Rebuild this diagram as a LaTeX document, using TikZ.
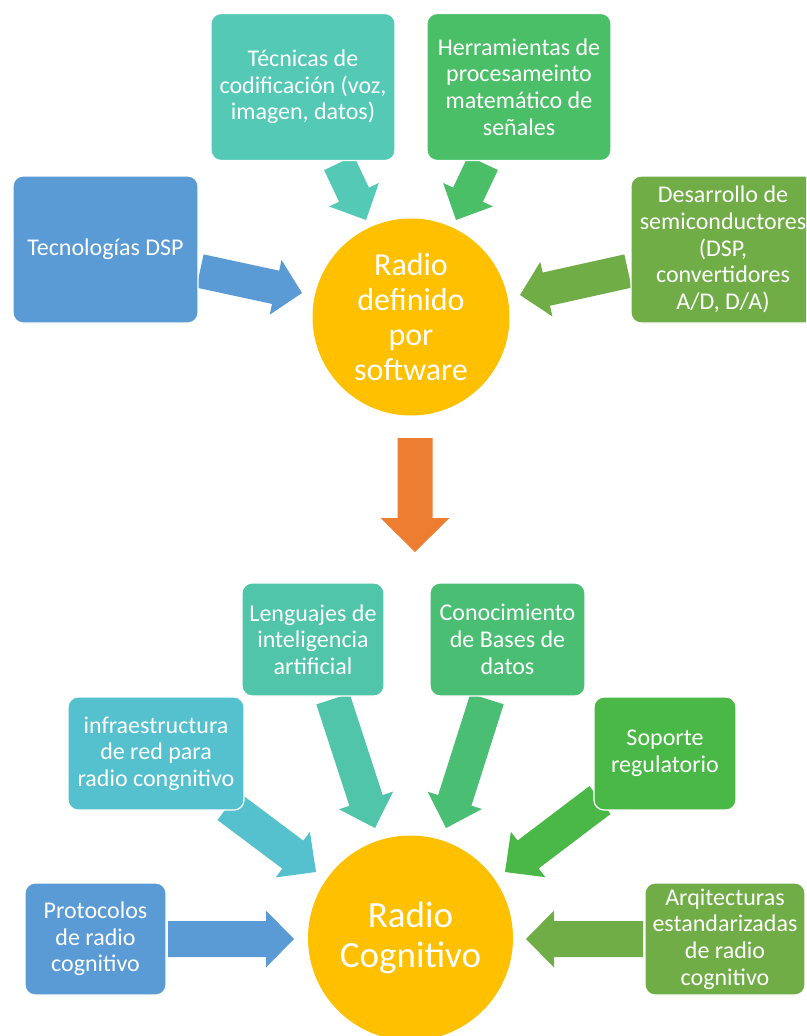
\documentclass[tikz,border=0pt]{standalone}
\usepackage{fontspec}
\setmainfont{Carlito}
\usepackage{xcolor}
\usepackage{tikz}
\usetikzlibrary{calc}
\definecolor{dspblue}{HTML}{5B9BD5}
\definecolor{codteal}{HTML}{54C9B6}
\definecolor{matgreen}{HTML}{4BBF68}
\definecolor{semgreen}{HTML}{70AD47}
\definecolor{hubgold}{HTML}{FFC000}
\definecolor{floworange}{HTML}{ED7D31}
\definecolor{iateal}{HTML}{50C5A9}
\definecolor{dbgreen}{HTML}{4ABF74}
\definecolor{netcyan}{HTML}{56C1CE}
\definecolor{reggreen}{HTML}{4AB846}
% Block arrow: tail, tip, colour, half shaft, half head, head length.
\newcommand{\blockarrow}[6]{%
  \coordinate (headbase) at ($(#2)!#6!(#1)$);
  \fill[#3]
    ($(#1)!#4!90:(#2)$) -- ($(headbase)!#4!90:(#2)$) --
    ($(headbase)!#5!90:(#2)$) -- (#2) --
    ($(headbase)!#5!-90:(#2)$) -- ($(headbase)!#4!-90:(#2)$) --
    ($(#1)!#4!-90:(#2)$) -- cycle;
}

\begin{document}
\begin{tikzpicture}[
      x=1pt,
      y=-1pt,
      box/.style={rounded corners=10pt, draw=white, line width=1.2pt,
        text=white, align=center, inner sep=0pt,
        font=\fontsize{24}{26.7}\selectfont},
      hub/.style={circle, fill=hubgold, text=white, align=center,
        inner sep=0pt}
    ]
      \clip (0,0) rectangle (806,1036);

      % Arrow ends, placed in picture pixels.
      \coordinate (codtail) at (339,163);  \coordinate (codtip) at (366,220);
      \coordinate (mattail) at (483,163);  \coordinate (mattip) at (456,220);
      \coordinate (dsptail) at (200,271);  \coordinate (dsptip) at (302,293);
      \coordinate (semtail) at (628,271);  \coordinate (semtip) at (520,295);
      \coordinate (flowtail) at (415,438); \coordinate (flowtip) at (415,552);
      \coordinate (iatail) at (333,699);   \coordinate (iatip) at (375,828);
      \coordinate (dbtail) at (487,699);   \coordinate (dbtip) at (446,828);
      \coordinate (nettail) at (228,806);  \coordinate (nettip) at (316,872);
      \coordinate (regtail) at (600,800);  \coordinate (regtip) at (505,872);
      \coordinate (prottail) at (168,939); \coordinate (prottip) at (294,939);
      \coordinate (archtail) at (643,939); \coordinate (archtip) at (526,939);

      \blockarrow{codtail}{codtip}{codteal}{16.5pt}{27.5pt}{28pt}
      \blockarrow{mattail}{mattip}{matgreen}{16.5pt}{27.5pt}{28pt}
      \blockarrow{dsptail}{dsptip}{dspblue}{17pt}{28pt}{27pt}
      \blockarrow{semtail}{semtip}{semgreen}{17pt}{28pt}{27pt}
      \blockarrow{flowtail}{flowtip}{floworange}{17.5pt}{34.5pt}{34pt}
      \blockarrow{iatail}{iatip}{iateal}{17.5pt}{28.5pt}{29pt}
      \blockarrow{dbtail}{dbtip}{dbgreen}{17.5pt}{28.5pt}{29pt}
      \blockarrow{nettail}{nettip}{netcyan}{17.5pt}{28.5pt}{29pt}
      \blockarrow{regtail}{regtip}{reggreen}{17.5pt}{28.5pt}{29pt}
      \blockarrow{prottail}{prottip}{dspblue}{18pt}{28.5pt}{28pt}
      \blockarrow{archtail}{archtip}{semgreen}{18pt}{28.5pt}{28pt}

      % Software defined radio and its sources.
      \node[box, fill=codteal, minimum width=184, minimum height=147]
        (codif) at (303,87) {Técnicas de\\codificación (voz,\\imagen, datos)};
      \node[box, fill=matgreen, minimum width=184, minimum height=147]
        (mathtools) at (519,87) {Herramientas de\\procesameinto\\matemático de\\señales};
      \node[box, fill=dspblue, minimum width=185, minimum height=147]
        (dsptech) at (105.5,249.5) {Tecnologías DSP};
      \node[box, fill=semgreen, minimum width=184, minimum height=147]
        (semicond) at (723,249.5) {Desarrollo de\\semiconductores\\(DSP,\\convertidores\\A/D, D/A)};
      \node[hub, minimum size=197,
        font=\fontsize{32}{35}\selectfont]
        (sdr) at (411,317) {Radio\\definido\\por\\software};

      % Cognitive radio and its sources.
      \node[box, fill=iateal, minimum width=142, minimum height=113]
        (ialang) at (313,639.5) {Lenguajes de\\inteligencia\\artificial};
      \node[box, fill=dbgreen, minimum width=155, minimum height=113]
        (dbknow) at (507.5,639.5) {Conocimiento\\de Bases de\\datos};
      \node[box, fill=netcyan, minimum width=176, minimum height=113]
        (netinfra) at (156,753.5) {infraestructura\\de red para\\radio congnitivo};
      \node[box, fill=reggreen, minimum width=142, minimum height=113]
        (regsup) at (665,753.5) {Soporte\\regulatorio};
      \node[box, fill=dspblue, minimum width=141, minimum height=112]
        (protocols) at (95.5,939) {Protocolos\\de radio\\cognitivo};
      \node[box, fill=semgreen, minimum width=160, minimum height=112]
        (archstd) at (725,939) {Arqitecturas\\estandarizadas\\de radio\\cognitivo};
      \node[hub, minimum size=205,
        font=\fontsize{37}{40}\selectfont]
        (cogradio) at (410.5,938) {Radio\\Cognitivo};
    \end{tikzpicture}
\end{document}
